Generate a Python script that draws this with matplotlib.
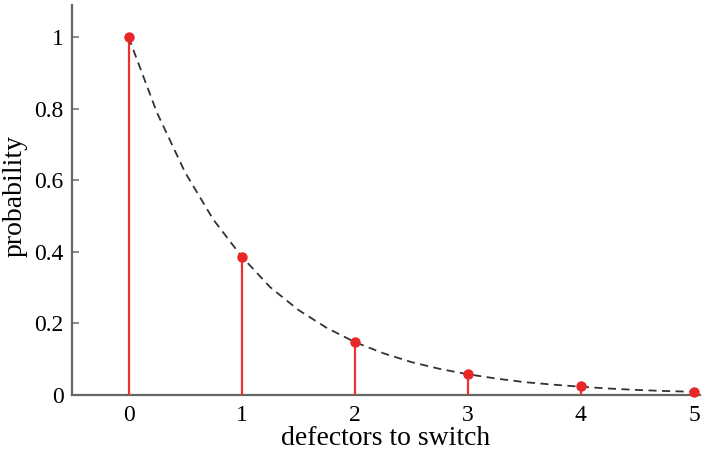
import numpy as np
import matplotlib.pyplot as plt

plt.rcParams['font.family'] = ['Liberation Serif', 'DejaVu Serif']

# stem values (probability of needing k defectors to switch)
k = [0, 1, 2, 3, 4, 5]
prob = [1.0, 0.387, 0.148, 0.060, 0.024, 0.009]

# dashed curve, values
curve_x = [0, 0.25, 0.5, 0.75, 1, 1.25, 1.5, 1.75, 2, 2.25, 2.5, 2.75, 3,
           3.25, 3.5, 3.75, 4, 4.25, 4.5, 4.75, 5]
curve_y = [1.0, 0.79, 0.622, 0.49, 0.387, 0.302, 0.238, 0.188, 0.148, 0.117,
           0.092, 0.073, 0.058, 0.046, 0.036, 0.029, 0.023, 0.018, 0.014, 0.011, 0.009]

fig = plt.figure(figsize=(7.02, 4.61), dpi=100)
ax = fig.add_axes([0.1026, 0.1432, 0.894, 0.846])

ax.plot(curve_x, curve_y, color='#333333', lw=1.3, ls=(0, (4.5, 3)), zorder=2)
ax.vlines(k, 0, prob, color='#f03030', lw=1.6, zorder=3)
ax.plot(k, prob, 'o', color='#e82828', ms=6.5, zorder=4, clip_on=False)

ax.set_xlim(-0.5, 5.05)
ax.set_ylim(0, 1.09)
ax.set_xticks(k)
ax.set_yticks([0, 0.2, 0.4, 0.6, 0.8, 1])
ax.set_yticklabels(['0', '0.2', '0.4', '0.6', '0.8', '1'])
ax.tick_params(direction='in', labelsize=17, color='#777777', length=5, width=1.2)
ax.tick_params(axis='y', pad=6)
ax.tick_params(axis='x', length=0, pad=7)

for s in ['top', 'right']:
    ax.spines[s].set_visible(False)
for s in ['left', 'bottom']:
    ax.spines[s].set_color('#666666')
    ax.spines[s].set_linewidth(1.6)

ax.set_xlabel('defectors to switch', fontsize=20, labelpad=0)
ax.set_ylabel('probability', fontsize=20, labelpad=0)
ax.yaxis.set_label_coords(-0.07, 0.51)

fig.savefig('out.png', dpi=100)
